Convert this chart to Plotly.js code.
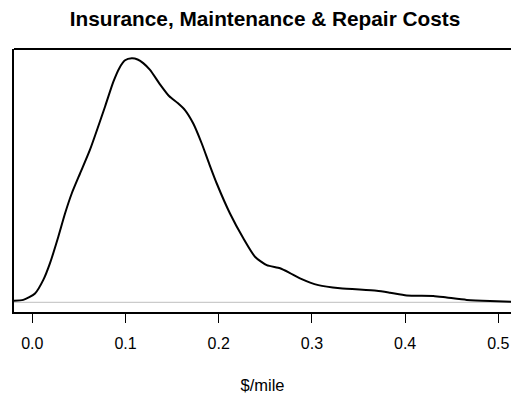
<!DOCTYPE html>
<html>
<head>
<meta charset="utf-8">
<script src="https://cdn.plot.ly/plotly-3.0.1.min.js"></script>
<style>html,body{margin:0;padding:0;background:#fff;}#chart{width:511px;height:396px;}</style>
</head>
<body>
<div id="chart"></div>
<script>
// Density estimate of insurance, maintenance & repair costs ($/mile)
var costPerMile = [-0.0204, -0.0097, 0.0029, 0.0118, 0.0190, 0.0279, 0.0351, 0.0423, 0.0512, 0.0618,
  0.0780, 0.0869, 0.0935, 0.0995, 0.1067, 0.1130, 0.1190, 0.1263, 0.1370, 0.1470, 0.1560, 0.1640, 0.1727, 0.1818,
  0.1900, 0.1979, 0.2121, 0.2264, 0.2389, 0.2515, 0.2658, 0.2765, 0.2872, 0.3069, 0.3302,
  0.3695, 0.3838, 0.4017, 0.4303, 0.4446, 0.4661, 0.4911, 0.5140];
var density = [0.04, 0.06, 0.22, 0.56, 0.98, 1.64, 2.22, 2.72, 3.22, 3.81,
  4.89, 5.51, 5.86, 6.05, 6.10, 6.07, 5.98, 5.81, 5.45, 5.15, 4.98, 4.80, 4.47, 3.97,
  3.45, 2.97, 2.22, 1.60, 1.14, 0.93, 0.85, 0.73, 0.60, 0.43, 0.35,
  0.29, 0.24, 0.17, 0.16, 0.12, 0.06, 0.03, 0.015];
var tickValues = [0.0, 0.1, 0.2, 0.3, 0.4, 0.5];
var tickLabels = ["0.0", "0.1", "0.2", "0.3", "0.4", "0.5"];

var font = "Liberation Sans, Arial, Helvetica, sans-serif";
var trace = {
  x: costPerMile, y: density, type: "scatter", mode: "lines",
  line: {color: "#000", width: 2, shape: "spline", smoothing: 0.6},
  hoverinfo: "skip"
};
var layout = {
  width: 511, height: 396,
  margin: {l: 14, r: 0, t: 49, b: 84},
  paper_bgcolor: "#fff", plot_bgcolor: "#fff",
  showlegend: false,
  title: {text: "<b>Insurance, Maintenance &amp; Repair Costs</b>", font: {family: font, size: 20.8, color: "#000"},
    xref: "container", x: 265/511, xanchor: "center", yref: "container", y: 1 - 19/396, yanchor: "middle"},
  xaxis: {
    range: [-0.01964, 0.5136], showgrid: false, zeroline: false,
    showline: true, linecolor: "#000", linewidth: 2,
    tickmode: "array", tickvals: tickValues, ticktext: tickLabels,
    ticks: "outside", ticklen: 9, tickwidth: 1, tickcolor: "#000",
    tickfont: {family: font, size: 16, color: "#000"}, ticklabelstandoff: 7,
    title: {text: "$/mile", font: {family: font, size: 16.5, color: "#000"}, standoff: 28}
  },
  yaxis: {
    range: [-0.2425, 6.3325], showgrid: false, zeroline: false,
    showline: true, linecolor: "#000", linewidth: 2,
    showticklabels: false, ticks: ""
  },
  shapes: [
    {type: "line", xref: "paper", yref: "y", x0: 0, x1: 1, y0: 0, y1: 0, line: {color: "#bebebe", width: 1}, layer: "below"},
    {type: "line", xref: "paper", yref: "paper", x0: 0, x1: 1, y0: 1, y1: 1, line: {color: "#000", width: 2}}
  ]
};
Plotly.newPlot("chart", [trace], layout, {displayModeBar: false, staticPlot: true});
</script>
</body>
</html>
